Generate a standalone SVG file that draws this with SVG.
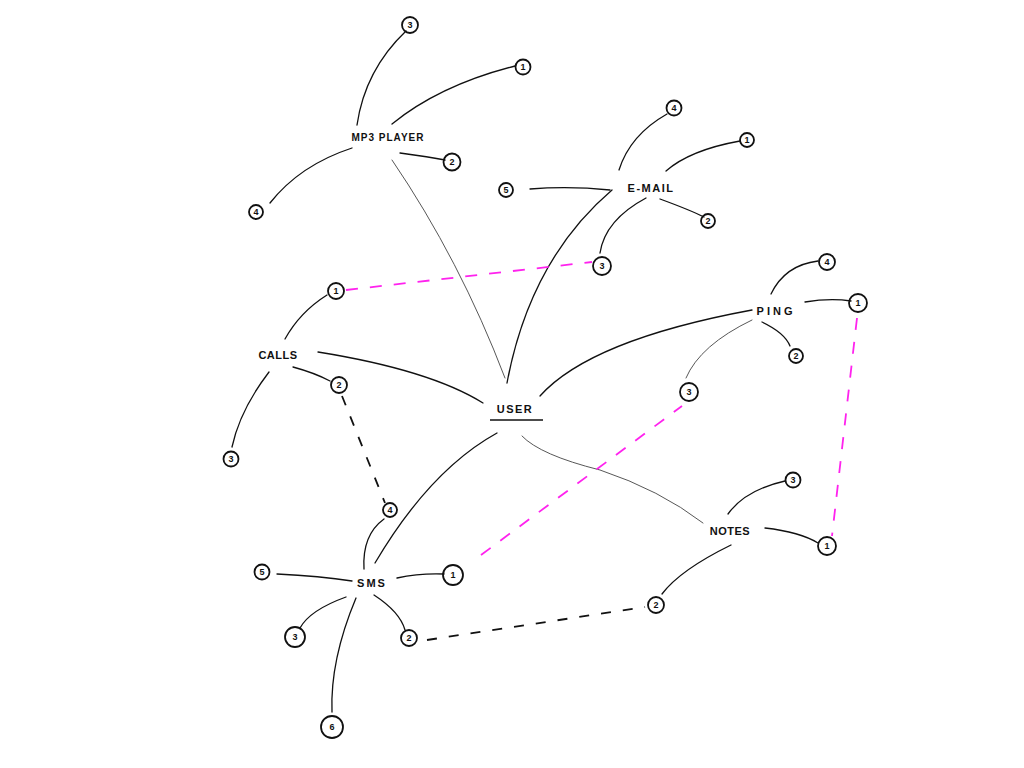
<svg xmlns="http://www.w3.org/2000/svg" width="1024" height="768" viewBox="0 0 1024 768">
<style>
.lbl{font-family:"Liberation Sans",Arial,sans-serif;font-size:11px;font-weight:bold;letter-spacing:1.5px;fill:#111;text-anchor:middle}
.num{font-family:"Liberation Sans",Arial,sans-serif;font-size:9px;font-weight:bold;fill:#111;text-anchor:middle}
.c{fill:none;stroke:#111;stroke-width:1.8}
.l{fill:none;stroke:#111;stroke-width:1.3;stroke-linecap:round}
.t{fill:none;stroke:#444;stroke-width:0.9;stroke-linecap:round}
.dk{fill:none;stroke:#111;stroke-width:1.8;stroke-dasharray:10,12}
.dm{fill:none;stroke:#ff22ee;stroke-width:1.8;stroke-dasharray:12,12}
</style>
<rect width="1024" height="768" fill="#fff"/>
<g id="connectors">
<path class="t" d="M392,160 Q460,260 505,378"/>
<path class="l" d="M612,190 Q530,260 507,383"/>
<path class="l" d="M318,352 Q430,370 483,403"/>
<path class="l" d="M540,396 Q590,340 752,310"/>
<path class="l" d="M497,433 Q430,470 375,563"/>
<path class="t" d="M522,436 Q540,455 600,470 Q660,490 703,523"/>
<path class="l" d="M357,125 Q365,70 406,31"/>
<path class="l" d="M392,124 Q440,85 515,66"/>
<path class="l" d="M400,153 Q430,157 445,160"/>
<path class="l" d="M352,148 Q300,165 270,203"/>
<path class="l" d="M619,170 Q630,135 667,114"/>
<path class="l" d="M666,171 Q690,150 740,141"/>
<path class="l" d="M530,189 Q570,186 610,190"/>
<path class="l" d="M660,199 Q690,210 704,217"/>
<path class="l" d="M646,198 Q605,220 600,253"/>
<path class="l" d="M285,339 Q300,312 327,295"/>
<path class="l" d="M293,367 Q315,373 330,381"/>
<path class="l" d="M269,372 Q240,410 232,447"/>
<path class="l" d="M771,294 Q785,265 818,261"/>
<path class="l" d="M805,302 Q830,298 851,301"/>
<path class="l" d="M762,322 Q785,333 790,346"/>
<path class="t" d="M752,320 Q700,345 686,378"/>
<path class="l" d="M728,514 Q745,490 785,481"/>
<path class="l" d="M765,528 Q800,532 818,543"/>
<path class="l" d="M731,545 Q680,570 662,594"/>
<path class="l" d="M364,569 Q362,535 384,519"/>
<path class="l" d="M397,578 Q420,573 444,574"/>
<path class="l" d="M277,574 Q320,576 352,581"/>
<path class="l" d="M346,597 Q310,610 300,628"/>
<path class="l" d="M374,595 Q400,612 405,630"/>
<path class="l" d="M356,598 Q330,660 332,712"/>
<path class="dm" d="M346,290 L592,262"/>
<path class="dk" d="M342,396 L385,503"/>
<path class="dm" d="M481,555 L682,406"/>
<path class="dk" d="M427,640 L645,607"/>
<path class="dm" d="M857,318 L832,536"/>
</g>
<g id="user"><text class="lbl" x="515" y="413">USER</text><line x1="490" y1="420" x2="543" y2="420" stroke="#111" stroke-width="1.6"/></g>
<g id="mp3"><text class="lbl" x="388" y="141" style="font-size:10px;letter-spacing:1px">MP3 PLAYER</text>
<circle class="c" cx="410" cy="25" r="8"/><text class="num" x="410" y="28">3</text>
<circle class="c" cx="523" cy="67" r="7.5"/><text class="num" x="523" y="70">1</text>
<circle class="c" cx="452" cy="162" r="8.5"/><text class="num" x="452" y="165">2</text>
<circle class="c" cx="256" cy="212" r="7"/><text class="num" x="256" y="215">4</text></g>
<g id="email"><text class="lbl" x="651" y="192">E-MAIL</text>
<circle class="c" cx="674" cy="108" r="7.5"/><text class="num" x="674" y="111">4</text>
<circle class="c" cx="747" cy="140" r="7"/><text class="num" x="747" y="143">1</text>
<circle class="c" cx="506" cy="190" r="7"/><text class="num" x="506" y="193">5</text>
<circle class="c" cx="708" cy="221" r="7"/><text class="num" x="708" y="224">2</text>
<circle class="c" cx="602" cy="266" r="9"/><text class="num" x="602" y="269">3</text></g>
<g id="calls"><text class="lbl" x="278" y="359" style="letter-spacing:0.5px">CALLS</text>
<circle class="c" cx="336" cy="291" r="8"/><text class="num" x="336" y="294">1</text>
<circle class="c" cx="339" cy="385" r="8"/><text class="num" x="339" y="388">2</text>
<circle class="c" cx="231" cy="459" r="7.5"/><text class="num" x="231" y="462">3</text></g>
<g id="ping"><text class="lbl" x="776" y="315" style="letter-spacing:3px">PING</text>
<circle class="c" cx="827" cy="262" r="8"/><text class="num" x="827" y="265">4</text>
<circle class="c" cx="858" cy="303" r="9"/><text class="num" x="858" y="306">1</text>
<circle class="c" cx="796" cy="356" r="7"/><text class="num" x="796" y="359">2</text>
<circle class="c" cx="689" cy="392" r="9"/><text class="num" x="689" y="395">3</text></g>
<g id="notes"><text class="lbl" x="730" y="535" style="letter-spacing:0.5px">NOTES</text>
<circle class="c" cx="793" cy="480" r="7.5"/><text class="num" x="793" y="483">3</text>
<circle class="c" cx="827" cy="546" r="9"/><text class="num" x="827" y="549">1</text>
<circle class="c" cx="656" cy="605" r="8"/><text class="num" x="656" y="608">2</text></g>
<g id="sms"><text class="lbl" x="372" y="587" style="letter-spacing:2px">SMS</text>
<circle class="c" cx="390" cy="510" r="7"/><text class="num" x="390" y="513">4</text>
<circle class="c" cx="453" cy="575" r="10"/><text class="num" x="453" y="578">1</text>
<circle class="c" cx="262" cy="572" r="7.5"/><text class="num" x="262" y="575">5</text>
<circle class="c" cx="295" cy="637" r="10"/><text class="num" x="295" y="640">3</text>
<circle class="c" cx="409" cy="638" r="8"/><text class="num" x="409" y="641">2</text>
<circle class="c" cx="332" cy="727" r="11"/><text class="num" x="332" y="730">6</text></g>
</svg>
